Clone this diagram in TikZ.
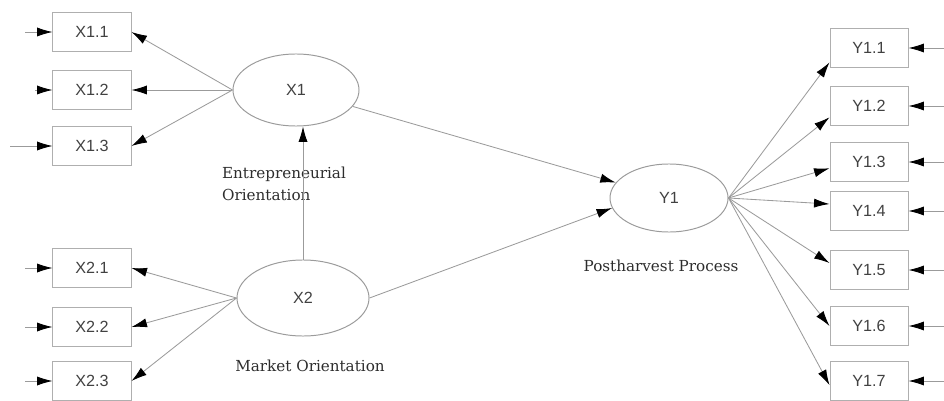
\documentclass[tikz,border=0pt]{standalone}
\usepackage{fontspec}
\setsansfont{Liberation Sans}
\newfontfamily\labelfont{DejaVu Serif}
\usetikzlibrary{arrows.meta,shapes.geometric}
\definecolor{lineGray}{RGB}{155,155,155}
\definecolor{boxGray}{RGB}{175,175,175}
\definecolor{textGray}{RGB}{65,65,65}
\definecolor{labelGray}{RGB}{45,45,45}

\begin{document}
\begin{tikzpicture}[x=0.025cm,y=-0.025cm,
    indicator/.style={draw=boxGray,line width=0.7pt,minimum width=1.95cm,minimum height=0.97cm,inner sep=0pt,font=\sffamily\fontsize{11.5}{13}\selectfont,text=textGray},
    latent/.style={draw=lineGray,ellipse,line width=0.7pt,inner sep=0pt,font=\sffamily\fontsize{11.5}{13}\selectfont,text=textGray},
    caption/.style={font=\labelfont\fontsize{10.8}{16}\selectfont,text=labelGray},
    link/.style={draw=lineGray,line width=0.6pt,-{Latex[length=11pt,width=6.5pt,color=black]}}]
    \useasboundingbox (0,0) rectangle (944,400);

    % Latent variables
    \node[latent,minimum width=3.15cm,minimum height=1.8cm] (x1) at (296,90) {X1};
    \node[latent,minimum width=3.3cm,minimum height=1.9cm] (x2) at (303,298) {X2};
    \node[latent,minimum width=2.95cm,minimum height=1.7cm] (y1) at (669,198) {Y1};

    % Captions
    \node[caption,align=left] (capx1) at (284,184) {Entrepreneurial\\Orientation};
    \node[caption] (capx2) at (310,366) {Market Orientation};
    \node[caption] (capy1) at (661,266) {Postharvest Process};

    % X1 indicators
    \node[indicator] (x11) at (92,32) {X1.1};
    \node[indicator] (x12) at (92,90) {X1.2};
    \node[indicator] (x13) at (92,146) {X1.3};

    % X2 indicators
    \node[indicator] (x21) at (92,268) {X2.1};
    \node[indicator] (x22) at (92,327) {X2.2};
    \node[indicator] (x23) at (92,381) {X2.3};

    % Y1 indicators
    \node[indicator] (y11) at (869,48) {Y1.1};
    \node[indicator] (y12) at (869,106) {Y1.2};
    \node[indicator] (y13) at (869,162) {Y1.3};
    \node[indicator] (y14) at (869,211) {Y1.4};
    \node[indicator] (y15) at (869,270) {Y1.5};
    \node[indicator] (y16) at (869,326) {Y1.6};
    \node[indicator] (y17) at (869,381) {Y1.7};

    % Error terms
    \coordinate (ex11) at (25,32);
    \coordinate (ex12) at (35,90);
    \coordinate (ex13) at (10,146);
    \coordinate (ex21) at (25,268);
    \coordinate (ex22) at (25,327);
    \coordinate (ex23) at (25,381);
    \foreach \i/\y in {1/48,2/106,3/162,4/211,5/270,6/326,7/381}
        \coordinate (ey1\i) at (944,\y);

    \draw[link] (ex11) -- (x11.west);
    \draw[link] (ex12) -- (x12.west);
    \draw[link] (ex13) -- (x13.west);
    \draw[link] (ex21) -- (x21.west);
    \draw[link] (ex22) -- (x22.west);
    \draw[link] (ex23) -- (x23.west);
    \foreach \i in {1,...,7}
        \draw[link] (ey1\i) -- (y1\i.east);

    % Loadings
    \draw[link] (x1.west) -- (x11.east);
    \draw[link] (x1.west) -- (x12.east);
    \draw[link] (x1.west) -- (x13.east);
    \draw[link] (x2.west) -- (x21.east);
    \draw[link] (x2.west) -- (x22.east);
    \draw[link] (x2.west) -- (x23.east);
    \draw[link] (y1.east) -- (y11.200);
    \draw[link] (y1.east) -- (y12.196);
    \draw[link] (y1.east) -- (y13.189);
    \draw[link] (y1.east) -- (y14.170);
    \draw[link] (y1.east) -- (y15.170);
    \draw[link] (y1.east) -- (y16.west);
    \draw[link] (y1.east) -- (y17.186);

    % Structural paths
    \draw[link] (x2.north) -- (x2.north |- x1.south);
    \draw[link] (x1) -- (y1);
    \draw[link] (x2.east) -- (y1.190);
\end{tikzpicture}
\end{document}
